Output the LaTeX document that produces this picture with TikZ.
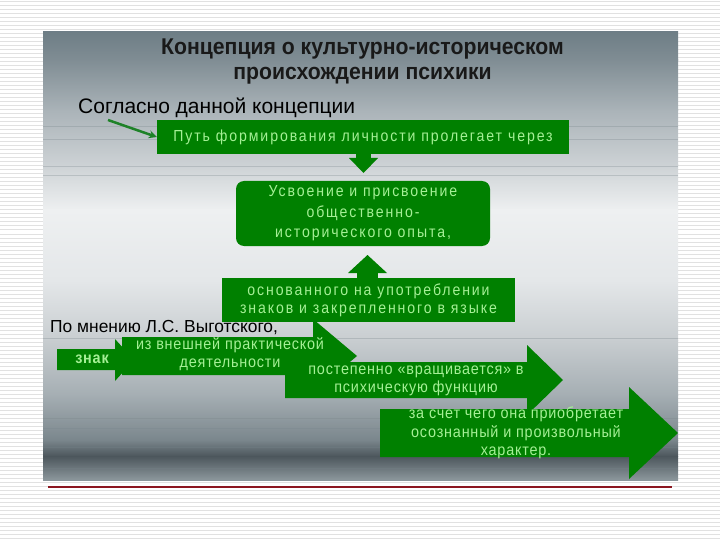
\documentclass[tikz,border=0pt]{standalone}
\usepackage{fontspec}
\setmainfont{Liberation Sans}
\newfontfamily\boxfont[FakeStretch=0.88,LetterSpace=12]{Liberation Sans}
\newfontfamily\arrfont[FakeStretch=0.9,LetterSpace=5]{Liberation Sans}
\newfontfamily\ttlfont[FakeStretch=0.93]{Liberation Sans}
\usetikzlibrary{arrows.meta}
\definecolor{gfill}{RGB}{0,128,0}
\definecolor{gtext}{RGB}{165,240,150}
\definecolor{ttext}{RGB}{25,25,25}
\definecolor{stripec}{RGB}{225,225,225}
\definecolor{p0}{RGB}{110,126,134}
\definecolor{p1}{RGB}{128,141,148}
\definecolor{p2}{RGB}{170,179,184}
\definecolor{p3}{RGB}{205,210,213}
\definecolor{p4}{RGB}{238,240,241}
\definecolor{p5}{RGB}{228,231,233}
\definecolor{p6}{RGB}{200,205,208}
\definecolor{p7}{RGB}{165,174,179}
\definecolor{p8}{RGB}{122,134,140}
\definecolor{p9}{RGB}{76,86,92}
\definecolor{p10}{RGB}{140,151,156}
\definecolor{streak}{RGB}{120,132,138}
\definecolor{redl}{RGB}{140,22,32}
\definecolor{sarr}{RGB}{30,130,40}
\begin{document}
\begin{tikzpicture}[x=1pt,y=-1pt,
  stripe/.style={draw=stripec,line width=1pt},
  boxg/.style={fill=gfill,text=gtext,inner sep=0pt,align=center},
  btext/.style={font={\boxfont\fontsize{16}{20.5}\selectfont}},
  atext/.style={text=gtext,inner sep=0pt,align=center,font={\arrfont\fontsize{16}{18.5}\selectfont}},
  blockarr/.style={fill=gfill},
  streakline/.style={draw=streak,line width=1pt,opacity=0.3},
  sarrow/.style={draw=sarr,line width=2.5pt,-{Stealth[length=8pt,width=8pt]}},
  redline/.style={draw=redl,line width=1.2pt},
  ttl/.style={anchor=base,inner sep=0pt,text=ttext,font={\ttlfont\bfseries\fontsize{22.8}{26}\selectfont}}]
\useasboundingbox (0,0) rectangle (720,540);
\fill[white] (0,0) rectangle (720,540);
\foreach \yy in {2,6,...,538} \draw[stripe] (0,\yy) -- (720,\yy);
% panel
\fill[top color=p0,bottom color=p1] (43,32) rectangle (678,60.5);
\fill[top color=p1,bottom color=p2] (43,60) rectangle (678,110.5);
\fill[top color=p2,bottom color=p3] (43,110) rectangle (678,165.5);
\fill[top color=p3,bottom color=p4] (43,165) rectangle (678,210.5);
\fill[top color=p4,bottom color=p5] (43,210) rectangle (678,280.5);
\fill[top color=p5,bottom color=p6] (43,280) rectangle (678,340.5);
\fill[top color=p6,bottom color=p7] (43,340) rectangle (678,395.5);
\fill[top color=p7,bottom color=p8] (43,395) rectangle (678,440.5);
\fill[top color=p8,bottom color=p9] (43,440) rectangle (678,456.5);
\fill[top color=p9,bottom color=p10] (43,456) rectangle (678,480);
\foreach \yy in {127,140,167,176,338,418,428,447,468} \draw[streakline] (43,\yy) -- (678,\yy);
% titles
\node[ttl] (t1) at (362.5,55) {Концепция о культурно-историческом};
\node[ttl] (t2) at (362.5,80) {происхождении психики};
\node[anchor=base west,inner sep=0pt,text=black,font={\fontsize{21}{25}\selectfont}] (sogl) at (78,114) {Согласно данной концепции};
% box 1
\node[boxg,btext,minimum width=412pt,minimum height=34pt] (b1) at (363,137) {Путь формирования личности пролегает через};
\draw[sarrow] (108,120) -- (b1.west);
% down arrow
\fill[blockarr] (356,153) rectangle (371,159);
\fill[blockarr] (349,158) -- (378,158) -- (363.5,173) -- cycle;
% box 2
\node[boxg,btext,rounded corners=8pt,minimum width=254pt,minimum height=65pt] (b2) at (363,213.5) {Усвоение и присвоение\\общественно-\\исторического опыта,};
% up arrow
\fill[blockarr] (357,272) rectangle (378,279);
\fill[blockarr] (348,273) -- (387,273) -- (367.5,255) -- cycle;
% box 3
\node[boxg,btext,minimum width=293pt,minimum height=44pt,font={\boxfont\fontsize{16}{18}\selectfont}] (b3) at (368.5,300) {основанного на употреблении\\знаков и закрепленного в языке};
\node[anchor=base west,inner sep=0pt,text=black,font={\fontsize{17.4}{20}\selectfont}] (vyg) at (50,332) {По мнению Л.С. Выготского,};
% arrow 1
\fill[blockarr] (57,349) -- (115,349) -- (115,339) -- (134,360) -- (115,381) -- (115,370) -- (57,370) -- cycle;
\node[atext] (z) at (92,359) {\bfseries знак};
% arrow 2
\fill[blockarr] (122,337) -- (313,337) -- (313,319) -- (357,356) -- (313,393) -- (313,375) -- (122,375) -- cycle;
\node[atext] (a2t) at (230,354) {из внешней практической\\деятельности};
% arrow 3
\fill[blockarr] (285,362) -- (527,362) -- (527,345) -- (563,380) -- (527,415) -- (527,398) -- (285,398) -- cycle;
\node[atext] (a3t) at (416,381) {постепенно «вращивается» в\\психическую функцию};
% arrow 4
\fill[blockarr] (380,409) -- (629,409) -- (629,387) -- (678,433) -- (629,479) -- (629,457) -- (380,457) -- cycle;
\node[atext] (a4t) at (516,433) {за счет чего она приобретает\\осознанный и произвольный\\характер.};
% bottom rule
\draw[redline] (48,487) -- (672,487);
\end{tikzpicture}
\end{document}
